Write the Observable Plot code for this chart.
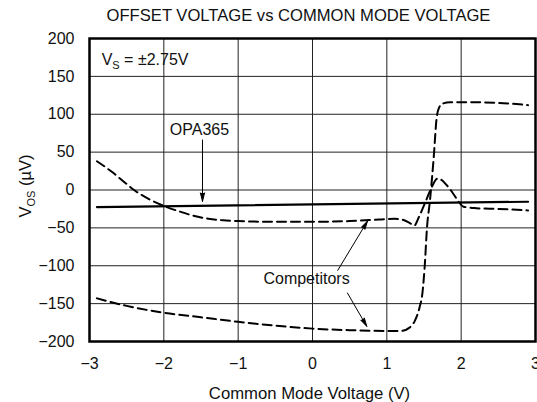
<!DOCTYPE html>
<html><head><meta charset="utf-8">
<script src="https://cdn.jsdelivr.net/npm/d3@7"></script>
<script src="https://cdn.jsdelivr.net/npm/@observablehq/plot@0.6"></script>
<style>body{margin:0;background:#fff;font-family:"Liberation Sans",Arial,sans-serif}</style>
</head><body><div id="chart"></div>
<script>
const title = "OFFSET VOLTAGE vs COMMON MODE VOLTAGE";
const xLabel = "Common Mode Voltage (V)";
const xTicks = [-3, -2, -1, 0, 1, 2, 3];
const yTicks = [-200, -150, -100, -50, 0, 50, 100, 150, 200];

// OPA365 (solid)
const opaX = [-2.9, 2.9];
const opaY = [-22.5, -15.5];
// Competitor A (upper dashed)
const compAX = [-2.9, -2.7, -2.55, -2.4, -2.2, -2.0, -1.8, -1.6, -1.4, -1.2, -1.0, -0.5, 0, 0.5, 0.9, 1.1, 1.2, 1.3, 1.37, 1.43, 1.54, 1.6, 1.68, 1.74, 1.8, 1.88, 1.95, 2.03, 2.2, 2.5, 2.9];
const compAY = [38, 24, 12, 0, -12, -21, -28, -34, -38, -40, -41, -42, -42, -41, -39, -38, -39, -43, -47, -36, -11, 3, 15, 13, 7, -3, -13, -22, -24, -25, -27];
// Competitor B (lower dashed, step)
const compBX = [-2.9, -2.5, -2.0, -1.5, -1.0, -0.5, 0, 0.5, 1.0, 1.2, 1.3, 1.38, 1.44, 1.48, 1.51, 1.54, 1.58, 1.63, 1.67, 1.70, 1.75, 1.85, 2.0, 2.5, 2.9];
const compBY = [-143, -153, -162, -168, -174, -179, -183, -185, -186, -186, -182, -172, -155, -135, -100, -50, -14, 42, 95, 108, 114, 116, 116, 115, 112];

// annotations
const labelTexts = ["OPA365", "Competitors"];
const labelX = [-1.52, -0.08];
const labelY = [80, -117];
const arrowX1 = [-1.48, 0.34, 0.47];
const arrowY1 = [66, -106, -136];
const arrowX2 = [-1.48, 0.74, 0.73];
const arrowY2 = [-15, -41, -180];
const vsX = -2.83, vsY = 165;

const opa = opaX.map((x, i) => ({x, y: opaY[i]}));
const compA = compAX.map((x, i) => ({x, y: compAY[i]}));
const compB = compBX.map((x, i) => ({x, y: compBY[i]}));
const labels = labelTexts.map((t, i) => ({t, x: labelX[i], y: labelY[i]}));
const arrows = arrowX1.map((x1, i) => ({x1, y1: arrowY1[i], x2: arrowX2[i], y2: arrowY2[i]}));

const FONT = "'Liberation Sans', Arial, Helvetica, sans-serif";

const plot = Plot.plot({
  width: 537, height: 402,
  marginTop: 38, marginBottom: 61, marginLeft: 89, marginRight: 2,
  style: {fontFamily: FONT, fontSize: "16px", color: "#111", background: "#fff", overflow: "visible"},
  x: {domain: [-3, 3], ticks: xTicks, tickSize: 0, tickPadding: 16, label: null, tickFormat: d3.format("d")},
  y: {domain: [-200, 200], ticks: yTicks, tickSize: 0, tickPadding: 15, label: null},
  marks: [
    Plot.gridX(xTicks, {stroke: "#222", strokeOpacity: 1, strokeWidth: 1}),
    Plot.gridY(yTicks, {stroke: "#222", strokeOpacity: 1, strokeWidth: 1}),
    Plot.frame({stroke: "#000", strokeWidth: 2.5}),
    Plot.line(opa, {x: "x", y: "y", stroke: "#000", strokeWidth: 2.2}),
    Plot.line(compA, {x: "x", y: "y", stroke: "#000", strokeWidth: 2, strokeDasharray: "9,5", curve: "monotone-x"}),
    Plot.line(compB, {x: "x", y: "y", stroke: "#000", strokeWidth: 2, strokeDasharray: "9,5", curve: "monotone-x"}),
    Plot.arrow(arrows, {x1: "x1", y1: "y1", x2: "x2", y2: "y2", stroke: "#000", fill: "#000", strokeWidth: 1, headAngle: 28, headLength: 13}),
    Plot.text(labels, {x: "x", y: "y", text: "t", fontSize: 16, fill: "#111"}),
    Plot.text([title], {frameAnchor: "top", dy: -29, dx: -14, fontSize: 16.6, fill: "#111"}),
    Plot.text([xLabel], {frameAnchor: "bottom", dy: 57, dx: -3, fontSize: 16.7, fill: "#111"})
  ]
});

const svg = d3.select(plot);
// Y axis label with subscript
const yl = svg.append("text")
  .attr("transform", "translate(25,186) rotate(-90)")
  .attr("text-anchor", "middle")
  .attr("dy", "0.35em")
  .attr("fill", "#111")
  .attr("font-family", FONT)
  .attr("font-size", 16.5);
yl.append("tspan").text("V");
yl.append("tspan").attr("font-size", 11).attr("dy", 4).text("OS");
yl.append("tspan").attr("dy", -4).text(" (µV)");

// Vs label
const xs = plot.scale("x"), ys = plot.scale("y");
const vs = svg.append("text")
  .attr("x", xs.apply(vsX)).attr("y", ys.apply(vsY))
  .attr("text-anchor", "start")
  .attr("fill", "#111").attr("font-family", FONT).attr("font-size", 16);
vs.append("tspan").text("V");
vs.append("tspan").attr("font-size", 11).attr("dy", 4).text("S");
vs.append("tspan").attr("dy", -4).text(" = ±2.75V");

document.getElementById("chart").appendChild(plot);
</script>
</body></html>
